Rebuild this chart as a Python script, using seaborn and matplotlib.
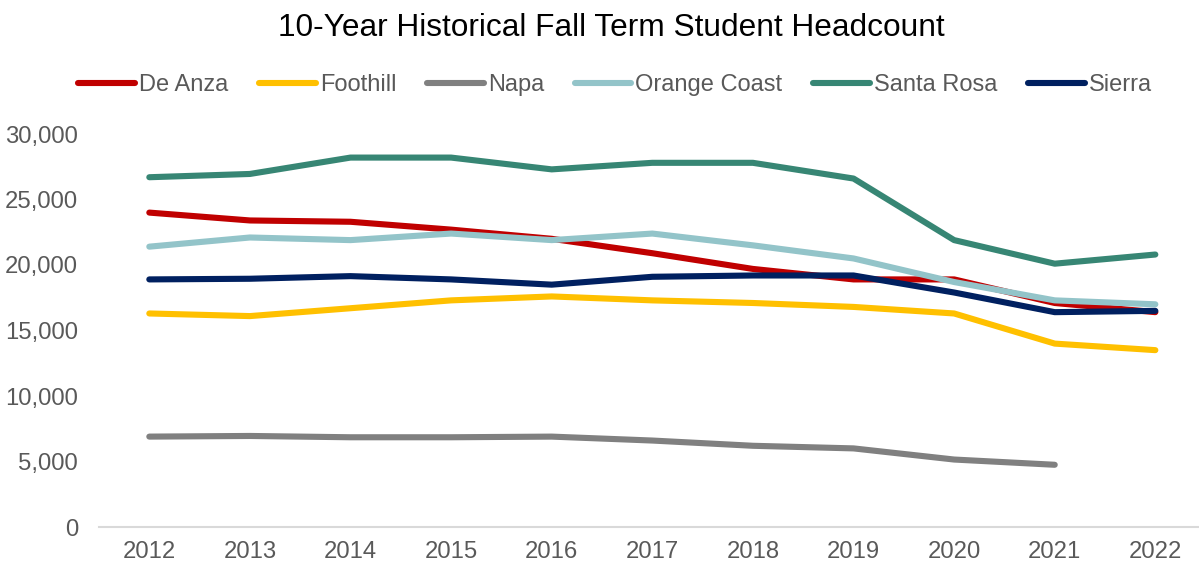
import numpy as np
import pandas as pd
import matplotlib
matplotlib.use("Agg")
import matplotlib.pyplot as plt
import seaborn as sns
from matplotlib.lines import Line2D
from matplotlib.ticker import FuncFormatter

years = [2012, 2013, 2014, 2015, 2016, 2017, 2018, 2019, 2020, 2021, 2022]
de_anza = [24000, 23400, 23300, 22700, 22000, 20900, 19700, 18900, 18900, 17100, 16400]
foothill = [16300, 16100, 16700, 17300, 17600, 17300, 17100, 16800, 16300, 14000, 13500]
napa = [6900, 6950, 6850, 6850, 6900, 6600, 6200, 6000, 5150, 4750, np.nan]
orange_coast = [21400, 22100, 21900, 22400, 21900, 22400, 21500, 20500, 18700, 17300, 17000]
santa_rosa = [26700, 26950, 28200, 28200, 27300, 27800, 27800, 26600, 21900, 20100, 20800]
sierra = [18900, 18950, 19150, 18900, 18500, 19100, 19200, 19200, 17900, 16400, 16500]

colleges = ["De Anza", "Foothill", "Napa", "Orange Coast", "Santa Rosa", "Sierra"]
series = [de_anza, foothill, napa, orange_coast, santa_rosa, sierra]
colors = ["#C00000", "#FFC000", "#808080", "#93C4C9", "#378674", "#002060"]

rows = []
for name, vals in zip(colleges, series):
    for y, v in zip(years, vals):
        rows.append({"Year": y, "College": name, "Headcount": v})
df = pd.DataFrame(rows).dropna()

sns.set_theme(style="white")
plt.rcParams["font.family"] = ["Liberation Sans", "DejaVu Sans"]

fig = plt.figure(figsize=(11.99, 5.67), dpi=100)
ax = fig.add_axes([99 / 1199, 40 / 567, 1100 / 1199, 393 / 567])

palette = dict(zip(colleges, colors))
lw = 4.4
sns.lineplot(data=df, x="Year", y="Headcount", hue="College", palette=palette,
             hue_order=colleges, linewidth=lw, ax=ax, legend=False,
             solid_capstyle="round", solid_joinstyle="round", sort=True)

ax.set_ylim(0, 30000)
ax.set_xlim(2011.5, 2022.434)
ax.set_yticks(range(0, 30001, 5000))
ax.yaxis.set_major_formatter(FuncFormatter(lambda v, p: f"{int(v):,}"))
ax.set_xticks(years)
ax.set_xticklabels([str(y) for y in years])
ax.tick_params(axis="both", labelsize=17.2, labelcolor="#595959", length=0)
ax.tick_params(axis="y", pad=15)
ax.tick_params(axis="x", pad=10)
ax.set_xlabel("")
ax.set_ylabel("")
for s in ["top", "right", "left"]:
    ax.spines[s].set_visible(False)
ax.spines["bottom"].set_color("#D9D9D9")
ax.spines["bottom"].set_linewidth(1.5)
ax.grid(False)

fig.text(0.51, 0.95, "10-Year Historical Fall Term Student Headcount",
         ha="center", va="center", fontsize=22.8, color="#000000")

handles = [Line2D([0], [0], color=c, lw=lw, solid_capstyle="round") for c in colors]
fig.legend(handles, colleges, loc="center", bbox_to_anchor=(0.513, 0.85), ncol=6,
           frameon=False, fontsize=17, labelcolor="#595959",
           handlelength=2.4, handletextpad=0.17, columnspacing=1.3)

fig.savefig("out.png", dpi=100)
